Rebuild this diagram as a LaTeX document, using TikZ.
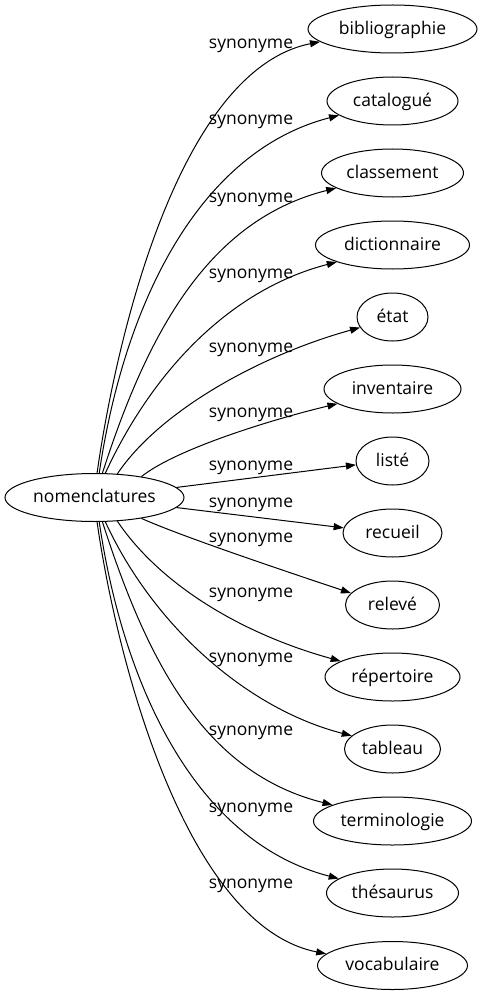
\documentclass[tikz,border=0pt]{standalone}
\usepackage{fontspec}
\setmainfont{Open Sans}
\usetikzlibrary{arrows.meta,shapes.geometric}
\begin{document}
\begin{tikzpicture}[x=1pt,y=-1pt,
  every node/.style={font=\fontsize{17.5}{20}\selectfont},
  wnode/.style={draw, ellipse, line width=1pt, inner sep=0pt, minimum height=48pt, text height=13pt, text depth=2.4pt},
  lbl/.style={anchor=base, inner sep=0pt},
  syn/.style={line width=1pt, -{Triangle[length=10pt,width=7pt]}}]
\useasboundingbox (0,0) rectangle (482,995);

\node[wnode, minimum width=179pt] (c) at (94.5,497.5) {\makebox[0pt]{nomenclatures}};

\node[wnode, minimum width=169pt] (n1) at (392.5,29) {\makebox[0pt]{bibliographie}};
\node[wnode, minimum width=131pt] (n2) at (392.5,101) {\makebox[0pt]{catalogué}};
\node[wnode, minimum width=142pt] (n3) at (392.5,173) {\makebox[0pt]{classement}};
\node[wnode, minimum width=154pt] (n4) at (392.5,245) {\makebox[0pt]{dictionnaire}};
\node[wnode, minimum width=71pt] (n5) at (392.5,317) {\makebox[0pt]{état}};
\node[wnode, minimum width=137pt] (n6) at (392.5,389) {\makebox[0pt]{inventaire}};
\node[wnode, minimum width=73pt] (n7) at (392.5,461) {\makebox[0pt]{listé}};
\node[wnode, minimum width=99pt] (n8) at (392.5,533) {\makebox[0pt]{recueil}};
\node[wnode, minimum width=94pt] (n9) at (392.5,605) {\makebox[0pt]{relevé}};
\node[wnode, minimum width=135pt] (n10) at (392.5,677) {\makebox[0pt]{répertoire}};
\node[wnode, minimum width=96pt] (n11) at (392.5,749) {\makebox[0pt]{tableau}};
\node[wnode, minimum width=158pt] (n12) at (392.5,821) {\makebox[0pt]{terminologie}};
\node[wnode, minimum width=132pt] (n13) at (392.5,893) {\makebox[0pt]{thésaurus}};
\node[wnode, minimum width=150pt] (n14) at (392.5,965.5) {\makebox[0pt]{vocabulaire}};

\node[lbl] (l1) at (251,48.6) {synonyme};
\node[lbl] (l2) at (251,124.6) {synonyme};
\node[lbl] (l3) at (251,202) {synonyme};
\node[lbl] (l4) at (251,278) {synonyme};
\node[lbl] (l5) at (251,352) {synonyme};
\node[lbl] (l6) at (251,417) {synonyme};
\node[lbl] (l7) at (251,470.3) {synonyme};
\node[lbl] (l8) at (251,507) {synonyme};
\node[lbl] (l9) at (251,542) {synonyme};
\node[lbl] (l10) at (251,597) {synonyme};
\node[lbl] (l11) at (251,662) {synonyme};
\node[lbl] (l12) at (251,735.3) {synonyme};
\node[lbl] (l13) at (251,812) {synonyme};
\node[lbl] (l14) at (251,888.6) {synonyme};

\draw[syn] (c.84) .. controls +(20,-140) and +(-140,28) .. (n1.190);
\draw[syn] (c.79) .. controls +(25,-170) and +(-140,36) .. (n2.195);
\draw[syn] (c.72) .. controls +(45,-140) and +(-128,32) .. (n3.195);
\draw[syn] (c.66) .. controls +(48,-104) and +(-105,27) .. (n4.197);
\draw[syn] (c.46) .. controls +(43,-64) and +(-98,27) .. (n5.198);
\draw[syn] (c.24) .. controls +(35,-28) and +(-63,15) .. (n6.195);
\draw[syn] (c.7.5) -- (n7.186);
\draw[syn] (c.-7.5) -- (n8.174);
\draw[syn] (c.-24) .. controls +(40,18) and +(-60,-20) .. (n9.164);
\draw[syn] (c.-46) .. controls +(43,64) and +(-98,-27) .. (n10.163);
\draw[syn] (c.-66) .. controls +(48,104) and +(-105,-27) .. (n11.162);
\draw[syn] (c.-72) .. controls +(45,140) and +(-128,-32) .. (n12.165);
\draw[syn] (c.-79) .. controls +(25,170) and +(-140,-36) .. (n13.165);
\draw[syn] (c.-84) .. controls +(20,140) and +(-140,-28) .. (n14.170);
\end{tikzpicture}
\end{document}
